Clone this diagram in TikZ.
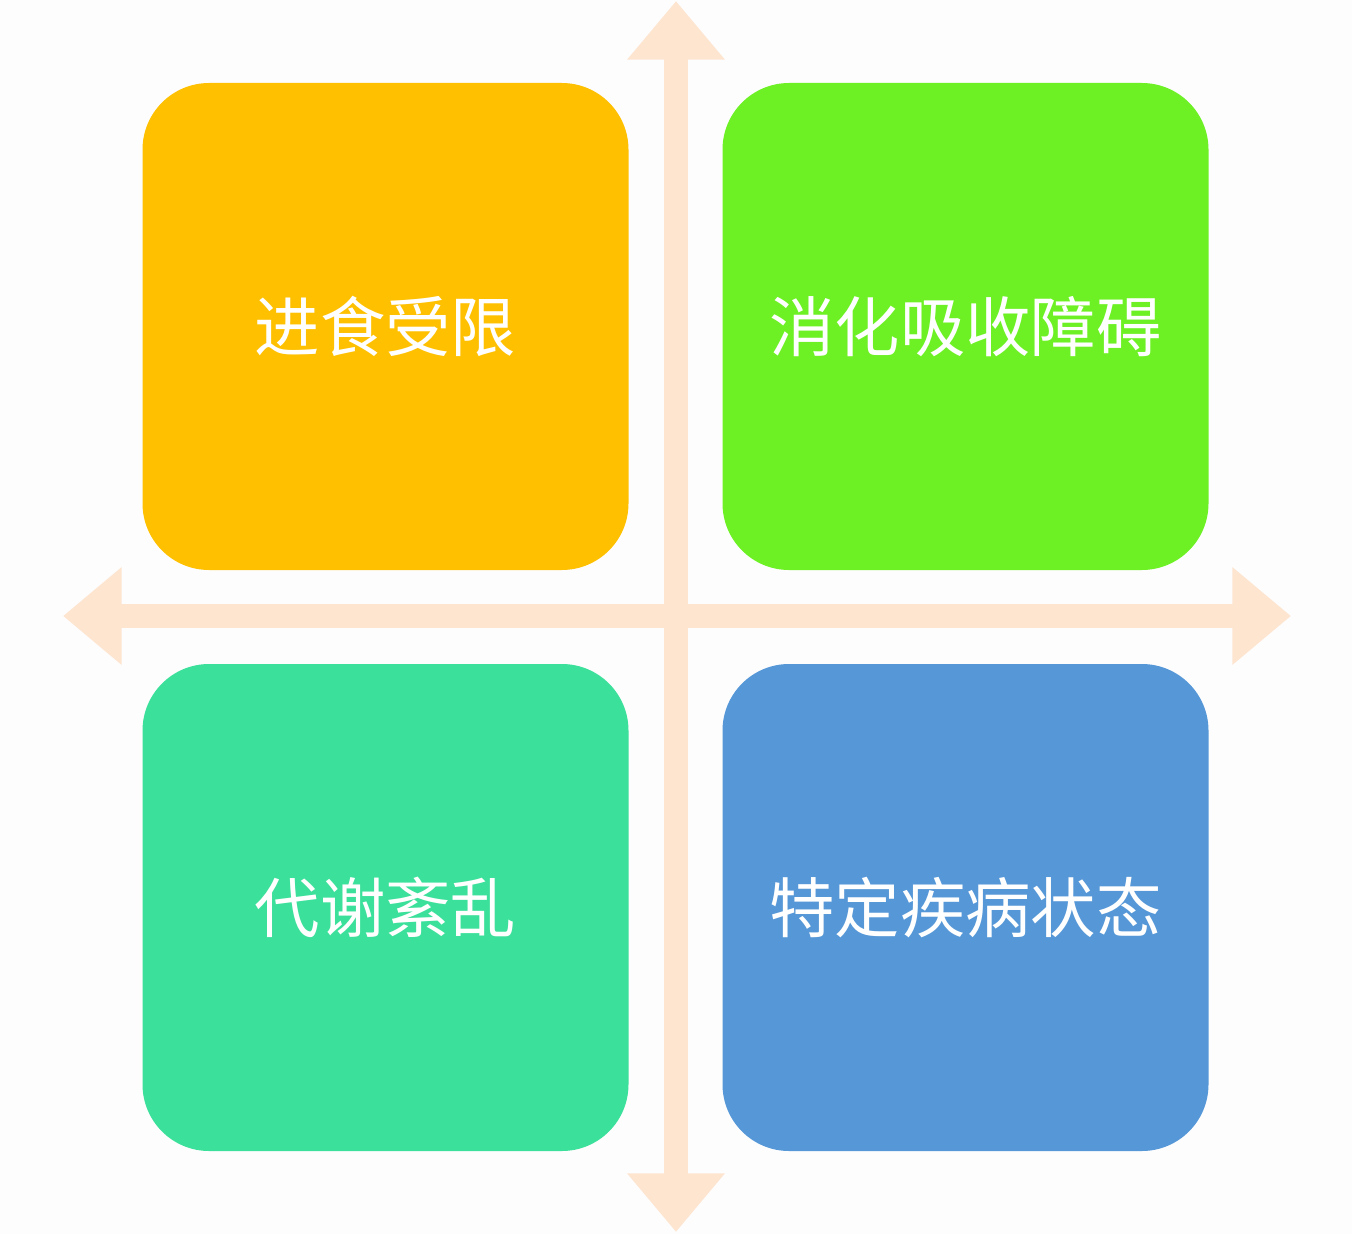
\documentclass[tikz,border=0pt]{standalone}
\usepackage{fontspec}
\newfontfamily\cjk{Noto Sans CJK SC}
\usetikzlibrary{arrows.meta,positioning}
\definecolor{quadOrange}{HTML}{FFC000}
\definecolor{quadGreen}{HTML}{6DF124}
\definecolor{quadTeal}{HTML}{3BE09A}
\definecolor{quadBlue}{HTML}{5597D7}
\definecolor{axisPeach}{HTML}{FDE5D0}
\definecolor{paper}{HTML}{FDFDFE}

\begin{document}
\begin{tikzpicture}[x=0.75pt, y=-0.75pt, node distance=70.5pt]
\tikzset{
  tile/.style = {rectangle, rounded corners=50pt, outer sep=0pt, inner sep=0pt, align=center, minimum width=364.5pt, minimum height=365.25pt, text=white, font=\cjk\fontsize{49}{49}\selectfont},
  axis/.style = {draw=axisPeach, line width=18pt, {Triangle[width=70.5pt, length=44pt]}-{Triangle[width=70.5pt, length=44pt]}}
}

% Background and frame
\fill[paper] (0,0) rectangle (1352,1234);
\useasboundingbox (0,0) rectangle (1352,1234);

% Axis ends
\coordinate (north) at (676,1);
\coordinate (south) at (676,1232);
\coordinate (west)  at (63,616);
\coordinate (east)  at (1291,616);

% Axes
\draw[axis] (south) -- (north);
\draw[axis] (west)  -- (east);

% Quadrant tiles
\node[tile, fill=quadOrange] at (385.5,326.5) (intake) {进食受限};
\node[tile, fill=quadGreen, right=of intake] (absorb) {消化吸收障碍};
\node[tile, fill=quadTeal, below=of intake] (metab) {代谢紊乱};
\node[tile, fill=quadBlue, below=of absorb] (disease) {特定疾病状态};

\end{tikzpicture}
\end{document}
